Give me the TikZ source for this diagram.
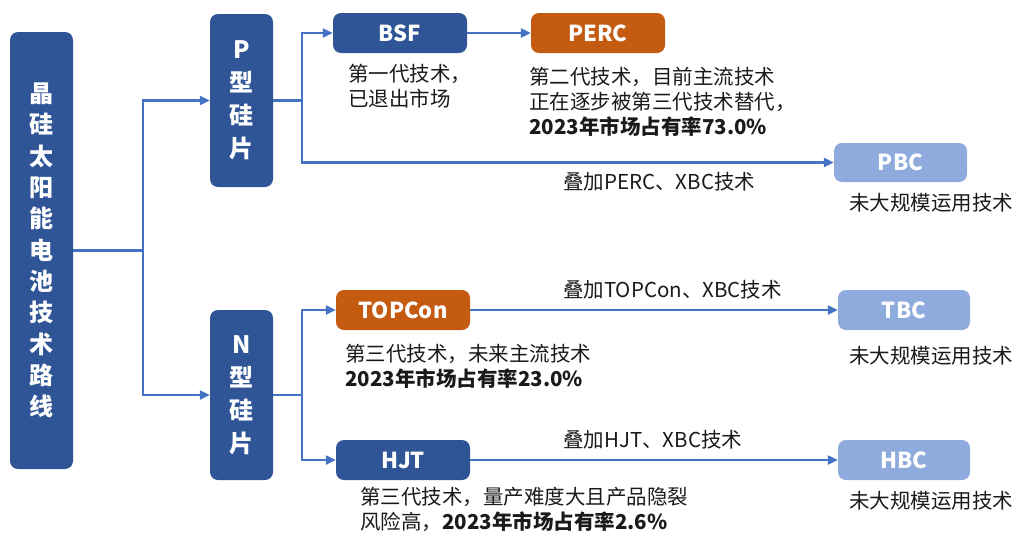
\documentclass[tikz,border=0pt]{standalone}
\usepackage{fontspec}
\setmainfont{Noto Sans CJK SC}
\usetikzlibrary{arrows.meta}
\definecolor{dblue}{HTML}{2F5597}
\definecolor{orng}{HTML}{C55A11}
\definecolor{lblue}{HTML}{8FAADC}
\definecolor{lineblue}{HTML}{4472C4}
\definecolor{txt}{HTML}{1A1A1A}
\tikzset{
  box/.style={rounded corners=8pt, inner sep=0pt, text=white, font=\fontsize{22}{24}\selectfont\bfseries},
  vbox/.style={box, fill=dblue, align=center},
  conn/.style={draw=lineblue, line width=2.2pt},
  arr/.style={conn, -{Triangle[length=10pt,width=9pt]}},
  note/.style={anchor=north west, inner sep=0pt, align=left, text=txt, font=\fontsize{20.5}{25}\selectfont},
}
\begin{document}
\begin{tikzpicture}[x=1pt,y=-1pt]
\useasboundingbox (0,0) rectangle (1014,533);
% boxes
\node[vbox, minimum width=63pt, minimum height=437pt, font=\fontsize{24}{31.3}\selectfont\bfseries] (main) at (41.5,250.5)
  {晶\\硅\\太\\阳\\能\\电\\池\\技\\术\\路\\线};
\node[vbox, minimum width=63pt, minimum height=173pt, font=\fontsize{24}{33}\selectfont\bfseries] (P) at (241.5,100.5) {P\\型\\硅\\片};
\node[vbox, minimum width=63pt, minimum height=170pt, font=\fontsize{24}{33}\selectfont\bfseries] (N) at (241.5,395) {N\\型\\硅\\片};
\node[box, fill=dblue, minimum width=134pt, minimum height=40pt] (BSF) at (400,33) {BSF};
\node[box, fill=orng, minimum width=134pt, minimum height=40pt] (PERC) at (598,33) {PERC};
\node[box, fill=lblue, minimum width=133pt, minimum height=39pt] (PBC) at (900.5,162.5) {PBC};
\node[box, fill=orng, minimum width=134pt, minimum height=40pt] (TOPCon) at (403,310) {TOPCon};
\node[box, fill=dblue, minimum width=134pt, minimum height=40pt] (HJT) at (403,460) {HJT};
\node[box, fill=lblue, minimum width=132pt, minimum height=40pt] (TBC) at (904,310) {TBC};
\node[box, fill=lblue, minimum width=132pt, minimum height=40pt] (HBC) at (904,460) {HBC};
% connectors
\draw[conn] (main.east) -- ++(70,0) coordinate (mj);
\draw[arr] (mj) |- (P.west);
\draw[arr] (mj) |- (N.west);
\draw[conn] (P.east) -- (302,100.5) coordinate (pj);
\draw[arr] (pj) |- (BSF.west);
\draw[arr] (pj) |- (PBC.west);
\draw[arr] (BSF.east) -- (PERC.west);
\draw[conn] (N.east) -- (302,395) coordinate (nj);
\draw[arr] (nj) |- (TOPCon.west);
\draw[arr] (nj) |- (HJT.west);
\draw[arr] (TOPCon.east) -- (TBC.west);
\draw[arr] (HJT.east) -- (HBC.west);
% notes
\node[note] (nBSF) at (348,63.5) {第一代技术，\\已退出市场};
\node[note] (nPERC) at (529,66.5) {第二代技术，目前主流技术\\正在逐步被第三代技术替代，\\\textbf{2023年市场占有率73.0\%}};
\node[note] (lPBC) at (563,172.5) {叠加PERC、XBC技术};
\node[note] (nPBC) at (849,193.5) {未大规模运用技术};
\node[note] (nTOP) at (345,343.5) {第三代技术，未来主流技术\\\textbf{2023年市场占有率23.0\%}};
\node[note] (lTBC) at (563,280.5) {叠加TOPCon、XBC技术};
\node[note] (nTBC) at (849,346.5) {未大规模运用技术};
\node[note] (lHBC) at (563,430.5) {叠加HJT、XBC技术};
\node[note] (nHJT) at (360,486.5) {第三代技术，量产难度大且产品隐裂\\风险高，\textbf{2023年市场占有率2.6\%}};
\node[note] (nHBC) at (849,491.5) {未大规模运用技术};
\end{tikzpicture}
\end{document}
